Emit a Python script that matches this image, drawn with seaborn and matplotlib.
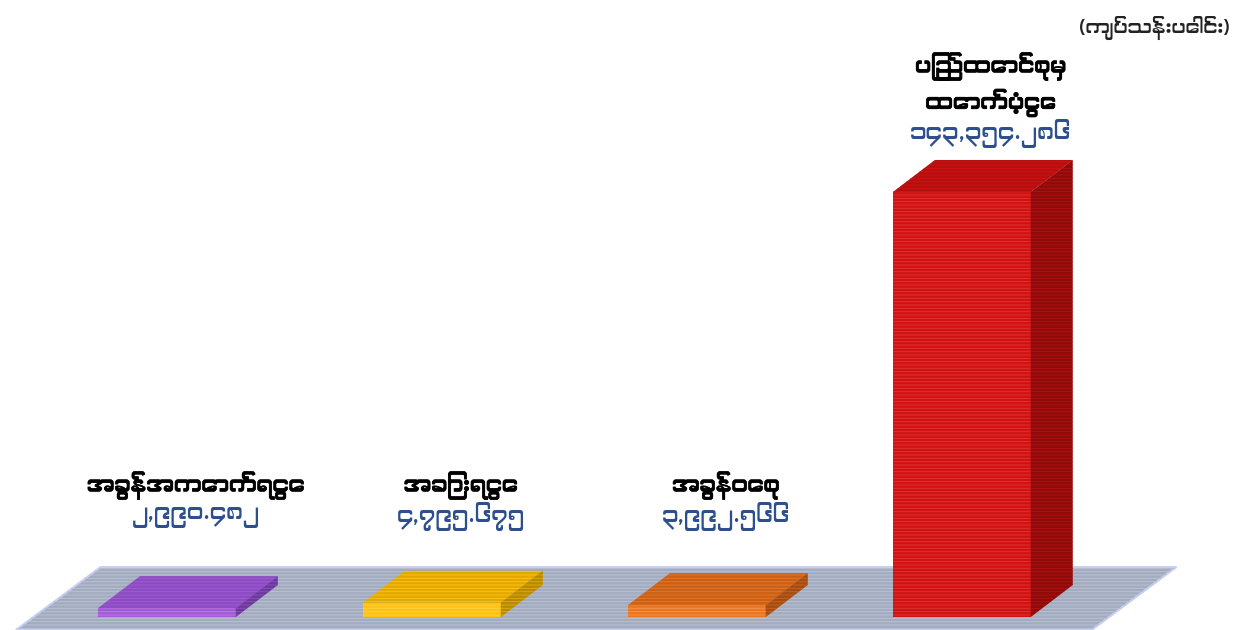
import numpy as np
import matplotlib
matplotlib.use("Agg")
import matplotlib.pyplot as plt
import matplotlib.patheffects as pe
import seaborn as sns
from matplotlib.patches import Polygon
from matplotlib import font_manager
from matplotlib.ft2font import FT2Font

# data
categories = ["အခွန်အကောက်ရငွေ", "အခြားရငွေ", "အခွန်ဝေစု", "ပြည်ထောင်စုမှ\nထောက်ပံ့ငွေ"]
values = [2990.482, 4795.675, 3992.566, 143354.286]
value_labels = ["၂,၉၉၀.၄၈၂", "၄,၇၉၅.၆၇၅", "၃,၉၉၂.၅၆၆", "၁၄၃,၃၅၄.၂၈၆"]
unit_label = "(ကျပ်သန်းပေါင်း)"

front_colors = ["#a35ad6", "#ffc20f", "#ec7520", "#d01212"]
top_colors = ["#8a4cc0", "#e2a800", "#c9601a", "#b50f0f"]
side_colors = ["#6b3a98", "#b58a00", "#a24d14", "#8c0b0b"]
stripe_colors = ["#b57ce0", "#ffd040", "#f5904a", "#e03232"]


def find_myanmar_font():
    found = []
    for f in font_manager.fontManager.ttflist:
        try:
            if 0x1000 in FT2Font(f.fname).get_charmap():
                found.append(f.name)
        except Exception:
            pass
    # prefer a dedicated Myanmar face when there is one
    for name in found:
        if "Myanmar" in name or "Padauk" in name:
            return name
    return found[0] if found else None


sns.set_theme(style="white")
mm_font = find_myanmar_font()
families = ([mm_font] if mm_font else []) + ["DejaVu Sans"]
plt.rcParams["font.family"] = families
plt.rcParams["hatch.linewidth"] = 0.7

fig = plt.figure(figsize=(12.48, 6.3), dpi=100)
ax = fig.add_axes([0, 0, 1, 1])

sns.barplot(x=categories, y=values, hue=categories, palette=front_colors,
            saturation=1, width=0.52, legend=False, ax=ax, zorder=3)
ax.set_xlim(-0.63, 4.08)
ax.set_ylim(-4385, 208100)
ax.axis("off")

inv = ax.transData.inverted()
x0, y0 = inv.transform((0, 0))
x1, y1 = inv.transform((42, 32))
ddx, ddy = x1 - x0, y1 - y0

# floor
floor_xy = [(-0.57, -4385), (-0.25, 16865), (3.81, 16865), (3.49, -4385)]
ax.add_patch(Polygon(floor_xy, closed=True, facecolor="#a3acbf",
                     edgecolor="#c9d0f4", lw=1.5, zorder=1))
ax.add_patch(Polygon(floor_xy, closed=True, facecolor="none", edgecolor="#b9c1d2",
                     lw=0, hatch="-----", zorder=1.5))

bars = [p for p in ax.patches if p.get_zorder() == 3][:len(values)]
for i, bar in enumerate(bars):
    x = bar.get_x()
    w = bar.get_width()
    h = bar.get_height()
    bar.set_edgecolor(stripe_colors[i])
    bar.set_linewidth(0)
    bar.set_hatch("-----")
    top = Polygon([(x, h), (x + ddx, h + ddy), (x + w + ddx, h + ddy), (x + w, h)],
                  closed=True, facecolor=top_colors[i], edgecolor=front_colors[i],
                  lw=0, hatch="-----", zorder=3)
    side = Polygon([(x + w, 0), (x + w, h), (x + w + ddx, h + ddy), (x + w + ddx, ddy)],
                   closed=True, facecolor=side_colors[i], edgecolor=top_colors[i],
                   lw=0, hatch="-----", zorder=3)
    ax.add_patch(top)
    ax.add_patch(side)

    cx = x + w / 2 + ddx * 0.5 + 0.03
    base = max(h, 0.1 * max(values)) + ddy
    ax.annotate(value_labels[i], (cx, base), xytext=(0, 19), textcoords="offset points",
                ha="center", va="center", fontsize=16.5, color="#2d4f8e")
    ax.annotate(categories[i], (cx, base), xytext=(0, 31), textcoords="offset points",
                ha="center", va="bottom", fontsize=16, fontweight="bold",
                color="black", linespacing=1.45,
                path_effects=[pe.withStroke(linewidth=0.5, foreground="black")])

ax.text(0.985, 0.955, unit_label, transform=ax.transAxes, ha="right", va="center",
        fontsize=14, color="#222222")

fig.savefig("out.png", dpi=100)
